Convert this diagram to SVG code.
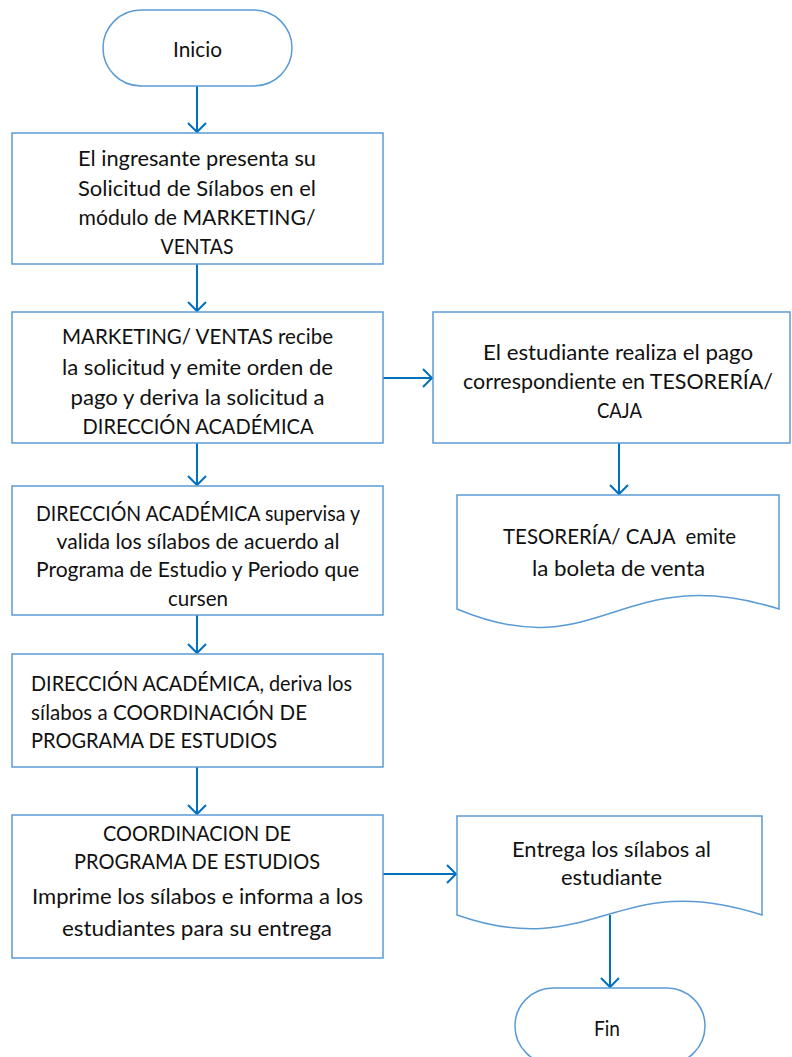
<svg xmlns="http://www.w3.org/2000/svg" width="792" height="1057" viewBox="0 0 792 1057">
<defs>
<style>
.sh{fill:#fff;stroke:#5B9BD5;stroke-width:1.5}
.t{font-family:Lato,"Liberation Sans",sans-serif;font-size:21px;fill:#111;text-anchor:middle;dominant-baseline:central}
.tl{text-anchor:start}
.cn{fill:none;stroke:#0070C0;stroke-width:2}
</style>
<marker id="ah" viewBox="0 0 20 20" markerWidth="20" markerHeight="20" refX="10" refY="10" orient="auto" markerUnits="userSpaceOnUse">
<path d="M1,1 L10,10 L1,19" fill="none" stroke="#0070C0" stroke-width="2"/>
</marker>
</defs>
<rect width="792" height="1057" fill="#fff"/>
<g id="connectors">
<line class="cn" x1="197" y1="86" x2="197" y2="132" marker-end="url(#ah)"/>
<line class="cn" x1="197" y1="264" x2="197" y2="311" marker-end="url(#ah)"/>
<line class="cn" x1="383" y1="378" x2="432" y2="378" marker-end="url(#ah)"/>
<line class="cn" x1="619" y1="443" x2="619" y2="494" marker-end="url(#ah)"/>
<line class="cn" x1="197" y1="443" x2="197" y2="485" marker-end="url(#ah)"/>
<line class="cn" x1="197" y1="615" x2="197" y2="653" marker-end="url(#ah)"/>
<line class="cn" x1="197" y1="767" x2="197" y2="814" marker-end="url(#ah)"/>
<line class="cn" x1="383" y1="874" x2="456" y2="874" marker-end="url(#ah)"/>
<line class="cn" x1="610" y1="915" x2="610" y2="987" marker-end="url(#ah)"/>
</g>
<g id="inicio">
<rect class="sh" x="103" y="10" width="189" height="76" rx="38" ry="38"/>
<text class="t" x="197.5" y="48" textLength="49" lengthAdjust="spacingAndGlyphs">Inicio</text>
</g>
<g id="box1">
<rect class="sh" x="12" y="133" width="371" height="131"/>
<text class="t" x="197" y="157" textLength="238" lengthAdjust="spacingAndGlyphs">El ingresante presenta su</text>
<text class="t" x="197" y="187" textLength="238" lengthAdjust="spacingAndGlyphs">Solicitud de Sílabos en el</text>
<text class="t" x="197" y="216" textLength="237" lengthAdjust="spacingAndGlyphs">módulo de MARKETING/</text>
<text class="t" x="197" y="245" textLength="73" lengthAdjust="spacingAndGlyphs">VENTAS</text>
</g>
<g id="box2">
<rect class="sh" x="12" y="312" width="371" height="131"/>
<text class="t" x="197.5" y="335" textLength="271" lengthAdjust="spacingAndGlyphs">MARKETING/ VENTAS recibe</text>
<text class="t" x="197.5" y="366" textLength="271" lengthAdjust="spacingAndGlyphs">la solicitud y emite orden de</text>
<text class="t" x="197.5" y="396" textLength="254" lengthAdjust="spacingAndGlyphs">pago y deriva la solicitud a</text>
<text class="t" x="198" y="425" textLength="231" lengthAdjust="spacingAndGlyphs">DIRECCIÓN ACADÉMICA</text>
</g>
<g id="pago">
<rect class="sh" x="433" y="312" width="357" height="131"/>
<text class="t" x="618" y="351" textLength="270" lengthAdjust="spacingAndGlyphs">El estudiante realiza el pago</text>
<text class="t" x="618" y="380" textLength="310" lengthAdjust="spacingAndGlyphs">correspondiente en TESORERÍA/</text>
<text class="t" x="619.5" y="409" textLength="45" lengthAdjust="spacingAndGlyphs">CAJA</text>
</g>
<g id="boleta">
<path class="sh" d="M457,495 H779 V609 C620,559 600,669 457,609 Z"/>
<text class="t" x="619.5" y="535" textLength="233" lengthAdjust="spacingAndGlyphs" xml:space="preserve">TESORERÍA/ CAJA  emite</text>
<text class="t" x="618.5" y="567" textLength="173" lengthAdjust="spacingAndGlyphs">la boleta de venta</text>
</g>
<g id="box3">
<rect class="sh" x="12" y="486" width="371" height="129"/>
<text class="t" x="198" y="512" textLength="324" lengthAdjust="spacingAndGlyphs">DIRECCIÓN ACADÉMICA supervisa y</text>
<text class="t" x="198" y="540" textLength="283" lengthAdjust="spacingAndGlyphs">valida los sílabos de acuerdo al</text>
<text class="t" x="197.5" y="568" textLength="323" lengthAdjust="spacingAndGlyphs">Programa de Estudio y Periodo que</text>
<text class="t" x="198" y="597" textLength="60" lengthAdjust="spacingAndGlyphs">cursen</text>
</g>
<g id="box4">
<rect class="sh" x="12" y="654" width="371" height="113"/>
<text class="t tl" x="31" y="682" textLength="321" lengthAdjust="spacingAndGlyphs">DIRECCIÓN ACADÉMICA, deriva los</text>
<text class="t tl" x="31" y="711" textLength="276" lengthAdjust="spacingAndGlyphs">sílabos a COORDINACIÓN DE</text>
<text class="t tl" x="31" y="739" textLength="246" lengthAdjust="spacingAndGlyphs">PROGRAMA DE ESTUDIOS</text>
</g>
<g id="box5">
<rect class="sh" x="12" y="815" width="371" height="143"/>
<text class="t" x="197" y="832" textLength="188" lengthAdjust="spacingAndGlyphs">COORDINACION DE</text>
<text class="t" x="197" y="860" textLength="246" lengthAdjust="spacingAndGlyphs">PROGRAMA DE ESTUDIOS</text>
<text class="t" x="197.5" y="895" textLength="331" lengthAdjust="spacingAndGlyphs">Imprime los sílabos e informa a los</text>
<text class="t" x="197" y="927" textLength="270" lengthAdjust="spacingAndGlyphs">estudiantes para su entrega</text>
</g>
<g id="entrega">
<path class="sh" d="M457,816 H762 V915 C616,867 594,963 457,915 Z"/>
<text class="t" x="611.5" y="848" textLength="199" lengthAdjust="spacingAndGlyphs">Entrega los sílabos al</text>
<text class="t" x="611.5" y="876" textLength="101" lengthAdjust="spacingAndGlyphs">estudiante</text>
</g>
<g id="fin">
<rect class="sh" x="515" y="988" width="190" height="76" rx="38" ry="38"/>
<text class="t" x="607" y="1027" textLength="26" lengthAdjust="spacingAndGlyphs">Fin</text>
</g>
</svg>
